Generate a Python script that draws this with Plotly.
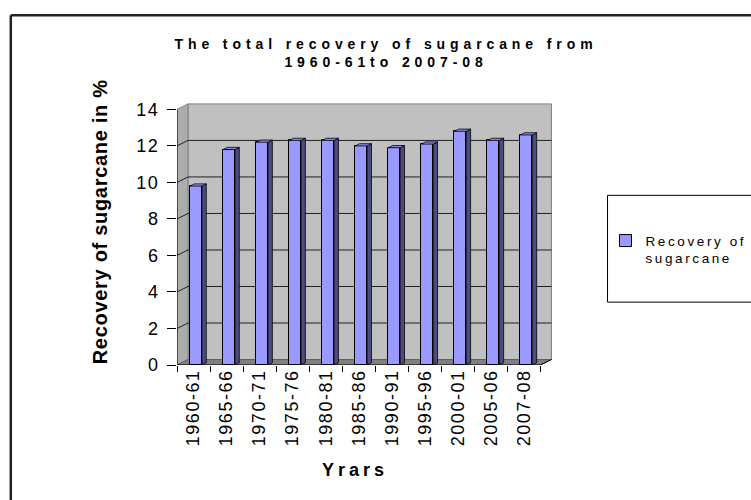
import plotly.graph_objects as go

# ---------------- data ----------------
categories = ["1960-61", "1965-66", "1970-71", "1975-76", "1980-81", "1985-86",
              "1990-91", "1995-96", "2000-01", "2005-06", "2007-08"]
recovery = [9.8, 11.8, 12.2, 12.3, 12.3, 12.0, 11.9, 12.1, 12.8, 12.3, 12.6]
y_ticks = [0, 2, 4, 6, 8, 10, 12, 14]

title_text = "The total recovery of sugarcane from<br>1960-61to 2007-08"
x_title = "Yrars"
y_title = "Recovery of sugarcane in %"
series_name = "Recovery of<br>sugarcane"

# ---------------- style / geometry ----------------
FONT = "Liberation Sans, Arial, sans-serif"
FRONT, SIDE, TOP = "#9999ff", "#4c4c80", "#8c8cf0"
BAR_W, BAR_OFF = 0.36, -0.104      # bar width and left-edge offset (category units)
DX, DY = 0.13, 0.12                # bar depth projection
WDX, WDY = 0.333, 0.30             # wall depth projection
W_PX, H_PX = 751, 500
L, T, B = 177, 102.5, 135
X_RANGE = [-0.5, 10.85]
Y_RANGE = [0, 14.35]
PLOT_W = (X_RANGE[1] - X_RANGE[0]) * 33.0
PLOT_H = H_PX - T - B
R = W_PX - L - PLOT_W


def px_x(px):
    return (px - L) / PLOT_W


def px_y(py):
    return (H_PX - B - py) / PLOT_H


idx = list(range(len(categories)))
n = len(categories)
xmin, xmax = -0.5, n - 0.5
ymax = y_ticks[-1]

fig = go.Figure()

fig.add_trace(go.Bar(
    x=idx, y=recovery, width=BAR_W, offset=BAR_OFF, name=series_name,
    marker=dict(color=FRONT, line=dict(color="black", width=1)),
    showlegend=True, hoverinfo="skip"))

sx, sy, tx, ty = [], [], [], []
for i, v in zip(idx, recovery):
    lft = i + BAR_OFF
    rgt = lft + BAR_W
    sx += [rgt, rgt + DX, rgt + DX, rgt, rgt, None]
    sy += [0, DY, v + DY, v, 0, None]
    tx += [lft, rgt, rgt + DX, lft + DX, lft, None]
    ty += [v, v, v + DY, v + DY, v, None]

fig.add_trace(go.Scatter(x=sx, y=sy, mode="lines", fill="toself", fillcolor=SIDE,
                         line=dict(color="black", width=0.8), showlegend=False,
                         hoverinfo="skip"))
fig.add_trace(go.Scatter(x=tx, y=ty, mode="lines", fill="toself", fillcolor=TOP,
                         line=dict(color="black", width=0.8), showlegend=False,
                         hoverinfo="skip"))

shapes = []
# back wall
shapes.append(dict(type="rect", xref="x", yref="y", x0=xmin + WDX, x1=xmax + WDX,
                   y0=WDY, y1=ymax + WDY, fillcolor="#c0c0c0",
                   line=dict(color="#808080", width=1), layer="below"))
# side wall
shapes.append(dict(type="path", xref="x", yref="y",
                   path=f"M {xmin},0 L {xmin + WDX},{WDY} L {xmin + WDX},{ymax + WDY} L {xmin},{ymax} Z",
                   fillcolor="#acacac", line=dict(color="#808080", width=1), layer="below"))
# floor
shapes.append(dict(type="path", xref="x", yref="y",
                   path=f"M {xmin},0 L {xmax},0 L {xmax + WDX},{WDY} L {xmin + WDX},{WDY} Z",
                   fillcolor="#808080", line=dict(color="#606060", width=1), layer="below"))
# gridlines
for k in y_ticks[1:-1]:
    shapes.append(dict(type="line", xref="x", yref="y", x0=xmin + WDX, x1=xmax + WDX,
                       y0=k + WDY, y1=k + WDY, line=dict(color="#202020", width=1),
                       layer="below"))
    shapes.append(dict(type="line", xref="x", yref="y", x0=xmin, x1=xmin + WDX,
                       y0=k, y1=k + WDY, line=dict(color="#202020", width=1),
                       layer="below"))
# front axis lines
shapes.append(dict(type="line", xref="x", yref="y", x0=xmin, x1=xmin, y0=0, y1=ymax,
                   line=dict(color="black", width=1)))
shapes.append(dict(type="line", xref="x", yref="y", x0=xmin, x1=xmax, y0=0, y1=0,
                   line=dict(color="black", width=1)))
shapes.append(dict(type="line", xref="x", yref="y", x0=xmax, x1=xmax + WDX, y0=0, y1=WDY,
                   line=dict(color="black", width=1)))
# legend box
shapes.append(dict(type="rect", xref="paper", yref="paper", x0=px_x(607), x1=px_x(770),
                   y0=px_y(302), y1=px_y(195), line=dict(color="black", width=1),
                   fillcolor="rgba(0,0,0,0)"))
# figure border (top and left)
shapes.append(dict(type="line", xref="paper", yref="paper", x0=px_x(11), x1=px_x(770),
                   y0=px_y(14.5), y1=px_y(14.5), line=dict(color="#222222", width=2.5)))
shapes.append(dict(type="line", xref="paper", yref="paper", x0=px_x(11), x1=px_x(11),
                   y0=px_y(14.5), y1=px_y(520), line=dict(color="#222222", width=2.5)))

annotations = [
    dict(text=y_title, xref="paper", yref="paper", x=px_x(100), y=px_y(221),
         textangle=-90, showarrow=False, xanchor="center", yanchor="middle",
         font=dict(family=FONT, size=20, color="black", weight="bold")),
    dict(text=x_title, xref="paper", yref="paper", x=px_x(355), y=px_y(470),
         showarrow=False, xanchor="center", yanchor="middle",
         font=dict(family=FONT, size=18, color="black", weight="bold")),
]

fig.update_layout(
    width=W_PX, height=H_PX, autosize=False,
    margin=dict(l=L, r=R, t=T, b=B, pad=0),
    paper_bgcolor="white", plot_bgcolor="white",
    font=dict(family=FONT, color="black"),
    title=dict(text=title_text, x=386 / W_PX, xref="container", xanchor="center",
               y=1 - 48.5 / H_PX, yref="container", yanchor="middle",
               font=dict(family=FONT, size=14, color="black", weight="bold")),
    xaxis=dict(range=X_RANGE, tickmode="array", tickvals=idx, ticktext=categories,
               tickangle=-90, ticks="", showgrid=False, zeroline=False, showline=False,
               tickfont=dict(family=FONT, size=18, color="black"),
               minor=dict(tickmode="array", tickvals=[i - 0.5 for i in range(n + 1)],
                          ticks="outside", ticklen=6, tickcolor="black", tickwidth=1,
                          showgrid=False)),
    yaxis=dict(range=Y_RANGE, tickmode="array", tickvals=y_ticks, ticks="outside",
               ticklen=9, tickcolor="black", showgrid=False, zeroline=False,
               showline=False, ticklabelstandoff=4,
               tickfont=dict(family=FONT, size=18, color="black")),
    showlegend=True,
    legend=dict(x=px_x(605), y=px_y(225), xanchor="left", yanchor="top",
                bgcolor="rgba(0,0,0,0)", borderwidth=0, valign="top",
                font=dict(family=FONT, size=13.5, color="black")),
    shapes=shapes, annotations=annotations, bargap=0,
)

post = """
document.body.style.margin = '0';
var gd = document.getElementById('{plot_id}');
function ls(sel, v){ gd.querySelectorAll(sel).forEach(function(e){ e.style.letterSpacing = v; }); }
function apply(){
  ls('.gtitle', '4.9px');
  ls('.legendtext', '2.6px');
  ls('.xtick text', '1.5px');
  ls('.ytick text', '1.5px');
  ls('.annotation[data-index="0"] text', '0.7px');
  ls('.annotation[data-index="1"] text', '4px');
  gd.querySelectorAll('.legend, .legend .scrollbox, .legend .groups').forEach(function(e){
    e.removeAttribute('clip-path');
  });
}
apply();
gd.on('plotly_afterplot', apply);
"""

fig.write_html("out.html", post_script=post, config={"displayModeBar": False})
